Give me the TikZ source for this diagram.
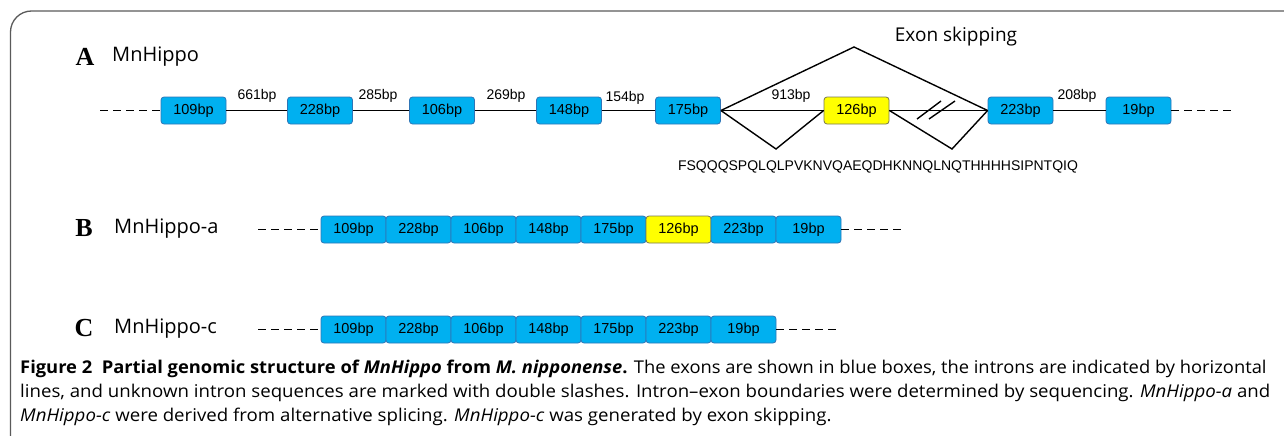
\documentclass[tikz,border=0pt]{standalone}
\usepackage{fontspec}
\setmainfont{Liberation Sans}
\newfontfamily\capfont[FakeStretch=1.06]{Open Sans}
\newfontfamily\lblfont{Open Sans}
\newfontfamily\letterfont{Liberation Serif}
\definecolor{exonblue}{RGB}{0,176,240}
\definecolor{exonedge}{RGB}{46,117,182}
\definecolor{exonyellow}{RGB}{255,255,0}
\definecolor{yedge}{RGB}{120,120,80}
\definecolor{framegray}{RGB}{90,90,90}
\tikzset{
  exon/.style={draw=exonedge, fill=exonblue, rounded corners=3pt, line width=0.8pt,
    minimum width=65pt, minimum height=27pt, inner sep=0pt,
    font=\fontsize{14.5pt}{15pt}\selectfont, text=black},
  yexon/.style={exon, fill=exonyellow, draw=yedge},
  intron/.style={line width=1.4pt, black},
  dashln/.style={line width=1.3pt, dash pattern=on 8pt off 5pt},
  ilbl/.style={font=\fontsize{14pt}{15pt}\selectfont, inner sep=0pt},
  panel/.style={font=\letterfont\bfseries\fontsize{26pt}{28pt}\selectfont, inner sep=0pt},
  gname/.style={font=\lblfont\fontsize{20pt}{22pt}\selectfont, inner sep=0pt, anchor=west},
  capline/.style={font=\capfont\fontsize{17.6pt}{20pt}\selectfont, inner sep=0pt, anchor=base west}
}
\begin{document}
\begin{tikzpicture}[x=1pt,y=-1pt]
\useasboundingbox (0,0) rectangle (1284,436);
% frame
\draw[framegray, line width=1.3pt, rounded corners=21pt] (10.5,440) -- (10.5,11) -- (1300,11);

% ---------- Row A ----------
\node[panel] (pA) at (85,57) {A};
\node[gname] (nA) at (112,57) {MnHippo};
\node[exon] (a1) at (193.5,110.5) {109bp};
\node[exon] (a2) at (320,110.5) {228bp};
\node[exon] (a3) at (442,110.5) {106bp};
\node[exon] (a4) at (569,110.5) {148bp};
\node[exon] (a5) at (688,110.5) {175bp};
\node[yexon] (a6) at (856.5,110.5) {126bp};
\node[exon] (a7) at (1020.5,110.5) {223bp};
\node[exon] (a8) at (1138.5,110.5) {19bp};
\coordinate (aL) at (100,110.5);
\coordinate (aR) at (1233,110.5);
\draw[dashln] (aL) -- (a1.west);
\draw[dashln] (a8.east) -- (aR);
\draw[intron] (a1.east) -- (a2.west);
\draw[intron] (a2.east) -- (a3.west);
\draw[intron] (a3.east) -- (a4.west);
\draw[intron] (a4.east) -- (a5.west);
\draw[intron] (a5.east) -- (a6.west);
\draw[intron] (a6.east) -- (a7.west);
\draw[intron] (a7.east) -- (a8.west);
\node[ilbl] (l1) at (257,96) {661bp};
\node[ilbl] (l2) at (378,96) {285bp};
\node[ilbl] (l3) at (506,96) {269bp};
\node[ilbl] (l4) at (625,98) {154bp};
\node[ilbl] (l5) at (791,96) {913bp};
\node[ilbl] (l6) at (1077,96) {208bp};
% exon skipping
\coordinate (peak) at (854,47);
\coordinate (v1) at (776,149);
\coordinate (v2) at (952,149);
\draw[line width=1.4pt] (a5.east) -- (peak) -- (a7.west);
\draw[line width=1.4pt] (a5.east) -- (v1) -- (a6.west);
\draw[line width=1.4pt] (a6.east) -- (v2) -- (a7.west);
% double slash
\coordinate (s1a) at (917,119); \coordinate (s1b) at (941,101);
\coordinate (s2a) at (929,119); \coordinate (s2b) at (955,101);
\draw[line width=1.4pt] (s1a) -- (s1b);
\draw[line width=1.4pt] (s2a) -- (s2b);
\node[font=\lblfont\fontsize{19pt}{21pt}\selectfont, inner sep=0pt] (es) at (956,37) {Exon skipping};
\node[font=\fontsize{14pt}{15pt}\selectfont, inner sep=0pt] (seq) at (878,167) {FSQQQSPQLQLPVKNVQAEQDHKNNQLNQTHHHHSIPNTQIQ};

% ---------- Row B ----------
\node[panel] (pB) at (84,228) {B};
\node[gname] (nB) at (114,229) {MnHippo-a};
\foreach \i/\t [count=\k] in {0/109bp,1/228bp,2/106bp,3/148bp,4/175bp} {
  \node[exon] (b\k) at (353.5+65*\i,229.5) {\t};
}
\node[yexon] (b6) at (353.5+65*5,229.5) {126bp};
\node[exon] (b7) at (353.5+65*6,229.5) {223bp};
\node[exon] (b8) at (353.5+65*7,229.5) {19bp};
\coordinate (bL) at (258,229.5);
\coordinate (bR) at (906,229.5);
\draw[dashln] (bL) -- (b1.west);
\draw[dashln] (b8.east) -- (bR);

% ---------- Row C ----------
\node[panel] (pC) at (84,328) {C};
\node[gname] (nC) at (114,329) {MnHippo-c};
\foreach \i/\t [count=\k] in {0/109bp,1/228bp,2/106bp,3/148bp,4/175bp,5/223bp,6/19bp} {
  \node[exon] (c\k) at (353.5+65*\i,329.5) {\t};
}
\coordinate (cL) at (258,329.5);
\coordinate (cR) at (841,329.5);
\draw[dashln] (cL) -- (c1.west);
\draw[dashln] (c7.east) -- (cR);

% ---------- Caption ----------
\node[capline] (cap1) at (20,373) {\scalebox{0.983}[1]{\textbf{Figure 2\ \ Partial genomic structure of \textit{MnHippo} from \textit{M.\ nipponense}.} The exons are shown in blue boxes, the introns are indicated by horizontal}};
\node[capline] (cap2) at (20,397) {lines, and unknown intron sequences are marked with double slashes. Intron–exon boundaries were determined by sequencing. \textit{MnHippo-a} and};
\node[capline] (cap3) at (20,421) {\textit{MnHippo-c} were derived from alternative splicing. \textit{MnHippo-c} was generated by exon skipping.};
\end{tikzpicture}
\end{document}
